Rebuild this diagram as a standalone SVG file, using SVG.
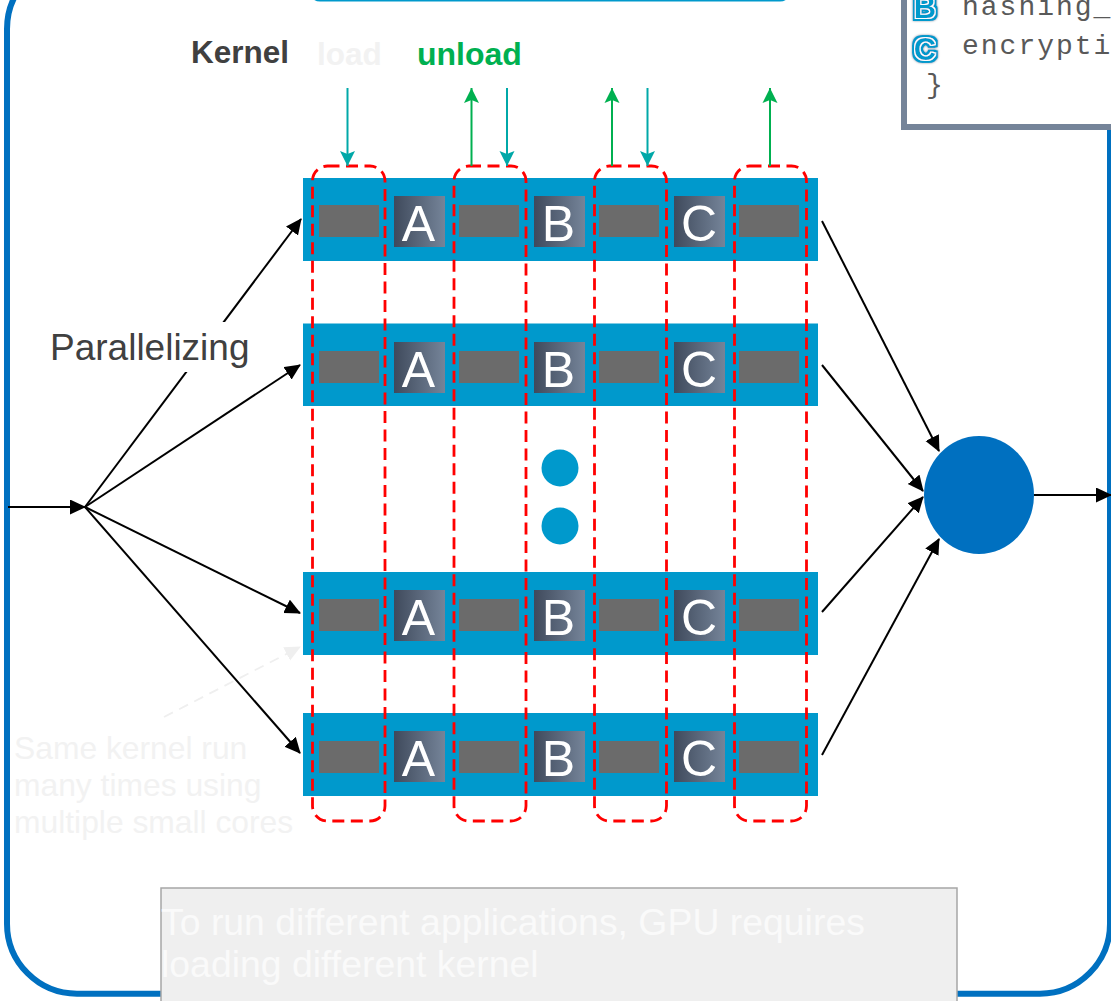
<svg xmlns="http://www.w3.org/2000/svg" width="1111" height="1001" viewBox="0 0 1111 1001">
<style>
text{font-family:"Liberation Sans",Arial,sans-serif}
.bar{fill:#0099cc}
.slot{fill:#6b6b6b}
.sq{fill:url(#sq)}
.let{font-size:50px;fill:#fff;text-anchor:middle}
.red{fill:none;stroke:#f00;stroke-width:2.8;stroke-dasharray:12 6.5}
.blk{stroke:#000;stroke-width:2;fill:none;marker-end:url(#ab)}
.teal{stroke:#00a8a8;stroke-width:2;fill:none;marker-end:url(#at)}
.grn{stroke:#00b050;stroke-width:2;fill:none;marker-end:url(#ag)}
.code{font-family:"Liberation Mono",monospace;font-size:28px;fill:#595959;letter-spacing:2px}
.ic{font-size:31px;font-weight:bold;fill:#0099cc;text-anchor:middle;filter:url(#ic)}
.pale{font-size:31.800px;fill:#f2f2f2}
.note{font-size:37.400px;fill:#fafafa}
</style>
<defs>
<linearGradient id="sq"><stop offset="0" stop-color="#3f4a5c"/><stop offset="1" stop-color="#758499"/></linearGradient>
<marker id="ab" markerUnits="userSpaceOnUse" markerWidth="17" markerHeight="16" refX="15" refY="7.5" orient="auto"><path d="M0 0L16 7.5L0 15z" fill="#000"/></marker>
<marker id="at" markerUnits="userSpaceOnUse" markerWidth="16" markerHeight="16" refX="15" refY="8" orient="auto"><path d="M0 0.5L15 8L0 15.500L3 8z" fill="#00a8a8"/></marker>
<marker id="ag" markerUnits="userSpaceOnUse" markerWidth="16" markerHeight="16" refX="15" refY="8" orient="auto"><path d="M0 0.5L15 8L0 15.500L3 8z" fill="#00b050"/></marker>
<marker id="ae" markerUnits="userSpaceOnUse" markerWidth="17" markerHeight="16" refX="15" refY="7.5" orient="auto"><path d="M0 0L16 7.5L0 15z" fill="#efefef"/></marker>
<filter id="ic" x="-40%" y="-40%" width="180%" height="180%">
<feMorphology in="SourceAlpha" operator="dilate" radius="1" result="d1"/>
<feFlood flood-color="#fff"/><feComposite in2="d1" operator="in" result="w"/>
<feMorphology in="SourceAlpha" operator="dilate" radius="2.500" result="d2"/>
<feFlood flood-color="#0099cc"/><feComposite in2="d2" operator="in" result="b"/>
<feMorphology in="SourceAlpha" operator="dilate" radius="3" result="d3"/>
<feGaussianBlur in="d3" stdDeviation="1.2" result="d4"/>
<feFlood flood-color="#8a9aa8"/><feComposite in2="d4" operator="in" result="g"/>
<feMerge><feMergeNode in="g"/><feMergeNode in="b"/><feMergeNode in="w"/><feMergeNode in="SourceGraphic"/></feMerge>
</filter>
</defs>

<rect id="frame" x="7" y="-41" width="1103" height="1034.700" rx="70" fill="#fff" stroke="#0070c0" stroke-width="6"/>
<rect id="top-box" x="310" y="-40" width="480" height="40" rx="10" fill="#fff" stroke="#0099cc" stroke-width="3"/>

<g id="code-box">
<rect x="904" y="-40" width="220" height="167" fill="#fff" stroke="#758499" stroke-width="6"/>
<text class="ic" x="925" y="18">B</text>
<text class="ic" x="925" y="60">C</text>
<text class="code" x="962" y="15">hashing_</text>
<text class="code" x="962" y="54">encrypti</text>
<text class="code" x="926" y="93">}</text>
</g>

<g id="row1"><rect class="bar" x="303" y="178" width="515" height="83"/>
<rect class="slot" x="319" y="205" width="60" height="32"/><rect class="slot" x="459" y="205" width="60" height="32"/><rect class="slot" x="599" y="205" width="60" height="32"/><rect class="slot" x="739" y="205" width="60" height="32"/>
<rect class="sq" x="394" y="196" width="51" height="51"/><rect class="sq" x="534" y="196" width="51" height="51"/><rect class="sq" x="674" y="196" width="51" height="51"/>
<text class="let" x="418.500" y="241">A</text><text class="let" x="558.500" y="241">B</text><text class="let" x="699" y="241">C</text></g>

<g id="row2"><rect class="bar" x="303" y="323.500" width="515" height="82.500"/>
<rect class="slot" x="319" y="351" width="60" height="32"/><rect class="slot" x="459" y="351" width="60" height="32"/><rect class="slot" x="599" y="351" width="60" height="32"/><rect class="slot" x="739" y="351" width="60" height="32"/>
<rect class="sq" x="394" y="342" width="51" height="51"/><rect class="sq" x="534" y="342" width="51" height="51"/><rect class="sq" x="674" y="342" width="51" height="51"/>
<text class="let" x="418.500" y="387">A</text><text class="let" x="558.500" y="387">B</text><text class="let" x="699" y="387">C</text></g>

<g id="row3"><rect class="bar" x="303" y="572" width="515" height="83"/>
<rect class="slot" x="319" y="599" width="60" height="32"/><rect class="slot" x="459" y="599" width="60" height="32"/><rect class="slot" x="599" y="599" width="60" height="32"/><rect class="slot" x="739" y="599" width="60" height="32"/>
<rect class="sq" x="394" y="590" width="51" height="51"/><rect class="sq" x="534" y="590" width="51" height="51"/><rect class="sq" x="674" y="590" width="51" height="51"/>
<text class="let" x="418.500" y="635">A</text><text class="let" x="558.500" y="635">B</text><text class="let" x="699" y="635">C</text></g>

<g id="row4"><rect class="bar" x="303" y="713" width="515" height="83"/>
<rect class="slot" x="319" y="741" width="60" height="32"/><rect class="slot" x="459" y="741" width="60" height="32"/><rect class="slot" x="599" y="741" width="60" height="32"/><rect class="slot" x="739" y="741" width="60" height="32"/>
<rect class="sq" x="394" y="731" width="51" height="51"/><rect class="sq" x="534" y="731" width="51" height="51"/><rect class="sq" x="674" y="731" width="51" height="51"/>
<text class="let" x="418.500" y="776">A</text><text class="let" x="558.500" y="776">B</text><text class="let" x="699" y="776">C</text></g>

<g id="dots"><circle cx="560" cy="468" r="18.500" fill="#0099cc"/><circle cx="560" cy="526" r="18.500" fill="#0099cc"/></g>
<g id="merge"><ellipse cx="979" cy="495" rx="55" ry="59" fill="#0070c0"/></g>

<g id="kernels">
<rect class="red" x="312.500" y="166" width="72.500" height="655" rx="15"/>
<rect class="red" x="454" y="166" width="72" height="655" rx="15"/>
<rect class="red" x="594.500" y="166" width="72" height="655" rx="15"/>
<rect class="red" x="734.500" y="166" width="72" height="655" rx="15"/>
</g>

<g id="connectors">
<path class="blk" d="M8 507H85"/>
<path class="blk" d="M85 507L301 219"/>
<path class="blk" d="M85 507L300 365"/>
<path class="blk" d="M85 507L300 613"/>
<path class="blk" d="M85 507L300 753"/>
<path class="blk" d="M822 221L939 451"/>
<path class="blk" d="M822 365L923 491"/>
<path class="blk" d="M822 612L923 497"/>
<path class="blk" d="M822 755L939 539"/>
<path class="blk" d="M1034 495H1111"/>
<path class="teal" d="M347.500 88V166"/>
<path class="teal" d="M507 88V166"/>
<path class="teal" d="M647.500 88V166"/>
<path class="grn" d="M471.500 166V88"/>
<path class="grn" d="M612 166V88"/>
<path class="grn" d="M770 166V88"/>
<path d="M164 717L300 647" fill="none" stroke="#efefef" stroke-width="1.800" stroke-dasharray="10 7" marker-end="url(#ae)"/>
</g>

<g id="labels">
<text x="191" y="63" font-size="31.500" font-weight="bold" fill="#404040">Kernel</text>
<text x="317" y="65" font-size="31.500" font-weight="bold" fill="#f2f2f2">load</text>
<text x="417" y="65" font-size="32" font-weight="bold" fill="#00b050">unload</text>
<rect x="48" y="322" width="204" height="50" fill="#fff"/>
<text x="50" y="360" font-size="37" fill="#404040">Parallelizing</text>
<text class="pale" x="14" y="759">Same kernel run</text>
<text class="pale" x="14" y="796">many times using</text>
<text class="pale" x="14" y="833">multiple small cores</text>
</g>

<g id="note">
<rect x="161" y="888" width="796" height="130" fill="#efefef" stroke="#a6a6a6" stroke-width="1.500"/>
<text class="note" x="161" y="935">To run different applications, GPU requires</text>
<text class="note" x="161" y="977">loading different kernel</text>
</g>
</svg>
